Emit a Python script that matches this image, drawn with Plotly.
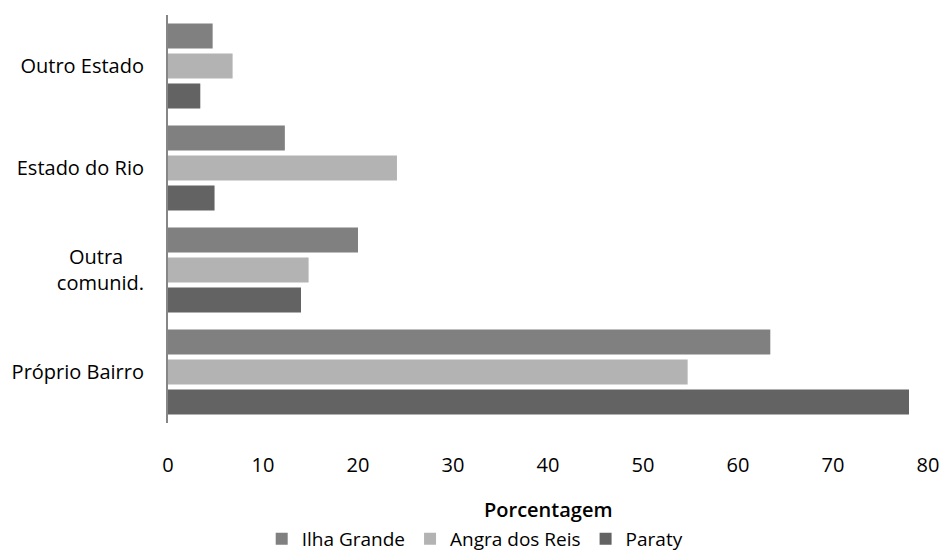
import plotly.graph_objects as go

categories = ["Outro Estado", "Estado do Rio", "Outra\u00a0\u00a0\u00a0\u00a0<br>comunid.", "Próprio Bairro"]
ilha_grande = [4.7, 12.3, 20.0, 63.4]
angra_dos_reis = [6.8, 24.1, 14.8, 54.7]
paraty = [3.4, 4.9, 14.0, 78.0]
x_ticks = [0, 10, 20, 30, 40, 50, 60, 70, 80]
x_title = "Porcentagem"

series = [
    ("Ilha Grande", ilha_grande, "#808080"),
    ("Angra dos Reis", angra_dos_reis, "#b3b3b3"),
    ("Paraty", paraty, "#636363"),
]

FONT = "Open Sans"
W, H = 940, 552
M_L, M_R, M_T, M_B = 168, 12, 15, 129
plot_h = H - M_T - M_B

fig = go.Figure()
for name, vals, color in series:
    fig.add_trace(go.Bar(
        y=categories, x=vals, name=name, orientation="h",
        marker=dict(color=color, line=dict(width=0)),
    ))

fig.update_layout(
    width=W, height=H,
    margin=dict(l=M_L, r=M_R, t=M_T, b=M_B, autoexpand=False),
    paper_bgcolor="white", plot_bgcolor="white",
    font=dict(family=FONT, size=20, color="#000000"),
    barmode="group",
    bargap=0.1176,
    bargroupgap=1/6,
    showlegend=True,
    legend=dict(
        orientation="h", xref="container", yref="container",
        x=0.505, xanchor="center", y=(H - 539) / H, yanchor="middle",
        font=dict(family=FONT, size=19, color="#000000"),
        itemwidth=30, tracegroupgap=0,
    ),
    xaxis=dict(
        range=[0, 80], tickvals=x_ticks, ticktext=[str(v) for v in x_ticks],
        showgrid=False, zeroline=False, showline=False,
        ticks="outside", ticklen=24, tickcolor="rgba(0,0,0,0)",
        tickfont=dict(family=FONT, size=20, color="#000000"),
        automargin=False,
        fixedrange=True,
    ),
    yaxis=dict(
        autorange="reversed", type="category",
        showgrid=False, zeroline=False,
        showline=True, linecolor="#868686", linewidth=2,
        ticks="outside", ticklen=18, tickcolor="rgba(0,0,0,0)",
        tickfont=dict(family=FONT, size=20, color="#000000"),
        automargin=False,
        fixedrange=True,
    ),
    annotations=[dict(
        text=x_title, xref="paper", yref="paper",
        x=0.5, y=-(510 - (H - M_B)) / plot_h, xanchor="center", yanchor="middle",
        showarrow=False,
        font=dict(family=FONT, size=20, color="#000000", weight=600),
    )],
)

fig.write_html(
    "out.html",
    config={"displayModeBar": False},
    post_script="document.body.style.margin='0';document.body.style.overflow='hidden';",
)
